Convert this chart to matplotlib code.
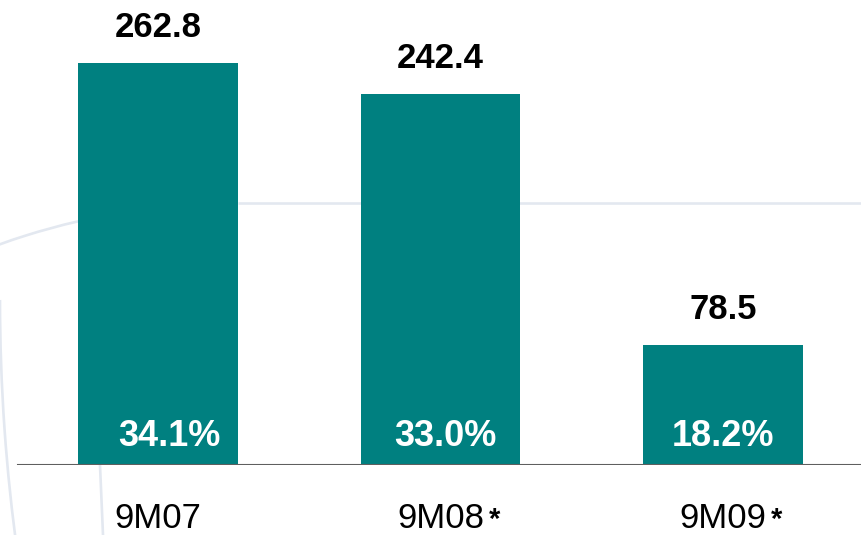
import matplotlib
matplotlib.use("Agg")
import matplotlib.pyplot as plt
from matplotlib.patches import Arc

plt.rcParams['font.family'] = ['Liberation Sans', 'DejaVu Sans']

# EBITDA-style values per period, margin shown inside each bar
periods = ["9M07", "9M08", "9M09"]
marks = ["", "*", "*"]
values = [262.8, 242.4, 78.5]
margins = ["34.1%", "33.0%", "18.2%"]

TEAL = "#008080"
DECOR = "#e3e8f0"

W, H = 861, 535
fig = plt.figure(figsize=(W / 100, H / 100), dpi=100)
fig.patch.set_facecolor("white")

# faint decorative arcs in the slide background (pixel coordinates, y down)
bg = fig.add_axes([0, 0, 1, 1], zorder=0)
bg.set_xlim(0, W)
bg.set_ylim(H, 0)
bg.axis("off")
bg.add_patch(Arc((238, 911), 2 * 708, 2 * 708, theta1=235, theta2=270,
                 color=DECOR, lw=1.9))
bg.plot([238, W], [203, 203], color=DECOR, lw=1.9, solid_capstyle="butt")
bg.add_patch(Arc((1841, 300), 2 * 1841, 2 * 1841, theta1=172, theta2=180,
                 color=DECOR, lw=1.9))
bg.plot([100, 103], [465, H], color=DECOR, lw=1.9)

# main bar chart, bottom edge sits on the baseline
ax = fig.add_axes([0, 70 / H, 1, 465 / H], zorder=1)
ax.patch.set_alpha(0)
x = list(range(len(periods)))
ax.bar(x, values, width=0.566, color=TEAL, zorder=2)
ax.set_xlim(-0.5593, 2.4885)
ax.set_ylim(0, values[0] * 465 / 402)
ax.axis("off")
ax.axhline(0, xmin=18 / W, xmax=1, color="#5f5f5f", lw=1.5, zorder=3)

# margin labels sit a little right of centre on the first two bars
pct_shift = [8.0, 3.6, 0.0]

for xi, v, m, p, star, dx in zip(x, values, margins, periods, marks, pct_shift):
    ax.annotate(f"{v:.1f}", (xi, v), xytext=(0, 18.7), textcoords="offset points",
                ha="center", va="baseline", fontsize=25, fontweight="bold",
                color="black")
    ax.annotate(m, (xi, 0), xytext=(dx, 13.7), textcoords="offset points",
                ha="center", va="baseline", fontsize=26, fontweight="bold",
                color="white", zorder=4)
    ax.annotate(p, (xi, 0), xytext=(0, -45.0), textcoords="offset points",
                ha="center", va="baseline", fontsize=25, color="black",
                annotation_clip=False)
    if star:
        ax.annotate(star, (xi, 0), xytext=(34.6, -45.0), textcoords="offset points",
                    ha="left", va="baseline", fontsize=21, fontweight="bold",
                    color="black", annotation_clip=False)

fig.savefig("out.png", dpi=100)
